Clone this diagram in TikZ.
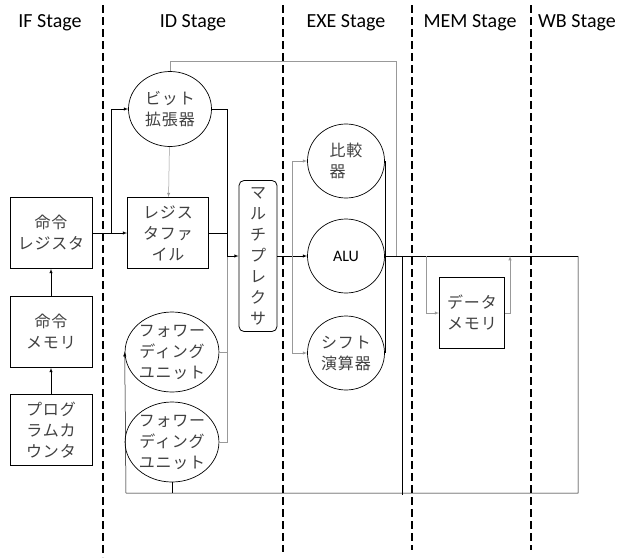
\documentclass[tikz,border=0pt]{standalone}
\usepackage{fontspec}
\setmainfont{Carlito}
\newfontfamily\jpfont[LetterSpace=5]{Noto Sans CJK JP}
\usetikzlibrary{calc,arrows,shapes.geometric}
\definecolor{txtgray}{HTML}{404040}
\definecolor{wiregray}{HTML}{999999}

\begin{document}
\begin{tikzpicture}[x=1pt,y=-1pt,
    box/.style={draw,line width=0.8pt,minimum width=82,minimum height=71,inner sep=0pt,align=center,text=txtgray,font=\jpfont\fontsize{16}{21}\selectfont},
    unit/.style={ellipse,draw,line width=0.7pt,minimum width=77,minimum height=74,inner sep=0pt,align=center,text=txtgray,font=\jpfont\fontsize{16}{21}\selectfont},
    stage/.style={font=\fontsize{20}{24}\selectfont},
    wire/.style={line width=0.5pt},
    sep/.style={line width=2.5pt,dash pattern=on 8pt off 4pt}]
  \useasboundingbox (0,0) rectangle (634,557);
  % stage borders
  \draw[sep] (103,5) -- (103,557);
  \draw[sep] (283,5) -- (283,552);
  \draw[sep] (412,5) -- (412,550);
  \draw[sep] (531,5) -- (531,550);
  \node[stage] (sif) at (50,23) {IF Stage};
  \node[stage] (sid) at (193,23) {ID Stage};
  \node[stage] (sex) at (346,23) {EXE Stage};
  \node[stage] (smem) at (470,23) {MEM Stage};
  \node[stage] (swb) at (577,23) {WB Stage};
  % IF
  \node[box] (ir) at (51,233) {命令\\レジスタ};
  \node[box] (im) at (51,332) {命令\\メモリ};
  \node[box] (pc) at (51,430) {プログ\\ラムカ\\ウンタ};
  \draw[wire,-latex] (pc) -- (im);
  \draw[wire,-latex] (im) -- (ir);
  % ID
  \node[unit,minimum width=83,minimum height=75] (bx) at (170,109) {ビット\\拡張器};
  \node[box,minimum width=81] (rf) at (168,233) {レジス\\タファ\\イル};
  \node[draw,rounded corners=5pt,line width=0.8pt,minimum width=38,minimum height=151,inner sep=0pt,align=center,text=txtgray,font=\jpfont\fontsize{16}{21}\selectfont] (mx) at (258,256) {マ\\ル\\チ\\プ\\レ\\ク\\サ};
  \node[unit,minimum width=92,minimum height=80] (fw1) at (172,352) {フォワー\\ディング\\ユニット};
  \node[unit,minimum width=92,minimum height=80] (fw2) at (172,442) {フォワー\\ディング\\ユニット};
  % EXE
  \node[unit,align=left] (cmp) at (346,161) {比較\\器};
  \node[unit,text=black,font=\fontsize{16}{20}\selectfont] (alu) at (346,256) {ALU};
  \node[unit] (sh) at (346,353) {シフト\\演算器};
  % MEM
  \node[box,minimum width=65] (dm) at (472,313) {データ\\メモリ};
  % junctions
  \coordinate (j1) at (111,233);
  \coordinate (j2) at (227,256);
  \coordinate (j3) at (292,256);
  \coordinate (j4) at (402,256);
  \coordinate (j5) at (396,256);
  \coordinate (j6) at (426,256);
  \coordinate (j7) at (510,256);
  \coordinate (wb) at (578,256);
  \coordinate (bl) at (126,493);
  % wires
  \draw[wire,-latex] (ir) -- (rf);
  \draw[wire,-latex] (j1) |- (bx.west);
  \draw[wire,wiregray,-latex] (bx) -- (rf);
  \draw[wire] (bx.east) -| (j2);
  \draw[wire] (rf.east) -| (j2);
  \draw[wire,wiregray] (fw1.east) -| (j2);
  \draw[wire,wiregray] (fw2.east) -| (j2);
  \draw[wire,-latex] (j2) -- (mx.west);
  \draw[wire,-latex] (mx.east) -- (alu.west);
  \draw[wire,wiregray,-latex] (j3) |- (cmp.west);
  \draw[wire,wiregray,-latex] (j3) |- (sh.west);
  \draw[wire] (cmp.east) -- (sh.east);
  \draw[wire] (alu.east) -- (wb);
  \draw[wire,wiregray] (bx.north) -- ++(0,-10) -| (j5);
  \draw[wire,wiregray,-latex] (j6) |- (dm.west);
  \draw[wire,wiregray,-latex] (dm.east) -| (j7);
  \draw[wire,-latex] (wb) |- (bl) -- (fw1.west);
  \draw[wire] (fw2.south) -- (fw2.south |- bl);
  \draw[wire] (j4) -- ($(j4 |- bl)+(0,2)$);
\end{tikzpicture}
\end{document}
